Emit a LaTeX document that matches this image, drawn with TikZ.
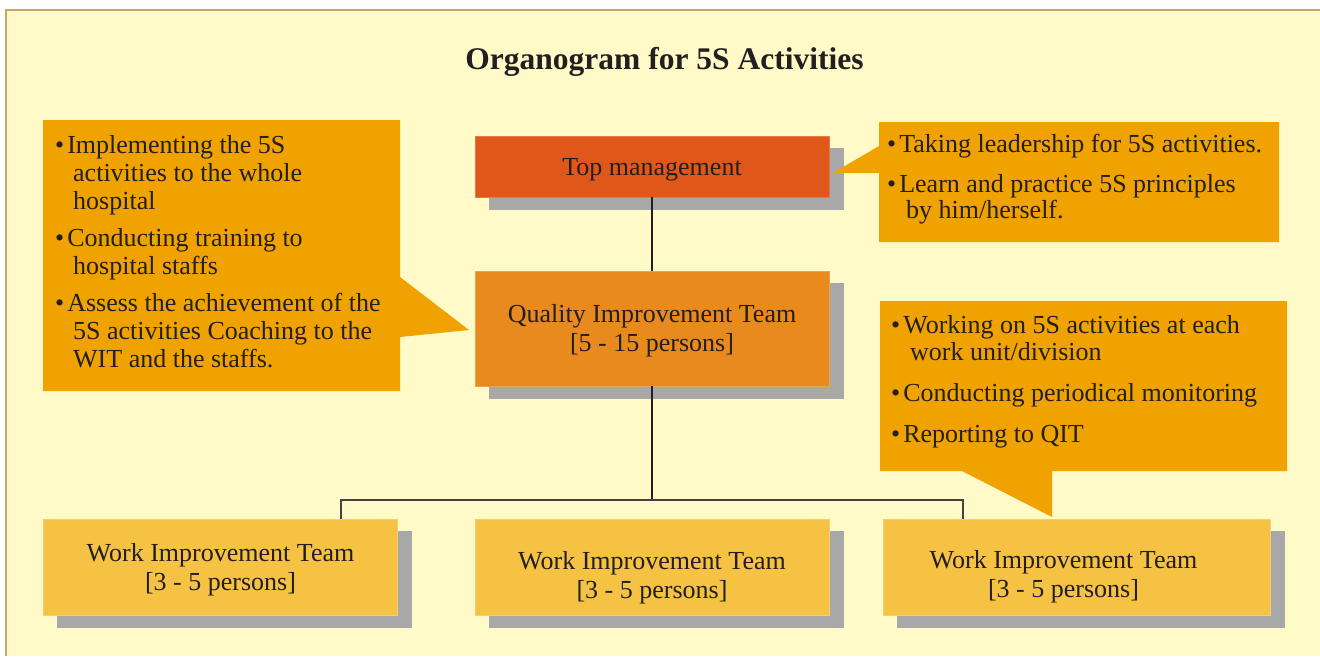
\documentclass[tikz,border=0pt]{standalone}
\usepackage{fontspec}
\setmainfont{Liberation Serif}
\usetikzlibrary{shadows}

\definecolor{paper}{HTML}{FFFAC8}
\definecolor{frame}{HTML}{C8A86A}
\definecolor{topfill}{HTML}{E0571A}
\definecolor{qitfill}{HTML}{E88A1E}
\definecolor{witfill}{HTML}{F5C244}
\definecolor{notefill}{HTML}{F0A200}
\definecolor{shade}{HTML}{A8A8A8}
\definecolor{ink}{HTML}{231F20}

% bullet followed by a small gap
\newcommand{\itembullet}{\textbullet\hspace{3pt}}

\begin{document}
\begin{tikzpicture}[x=1pt,y=-1pt,
  orgbox/.style={rectangle, inner sep=0pt, minimum width=354pt,
    fill=#1, draw=#1!80!white, line width=0.8pt,
    general shadow={fill=shade, draw=shade, shadow xshift=14pt, shadow yshift=-12pt}},
  boxlabel/.style={text=ink, align=center, inner sep=0pt,
    font=\fontsize{26}{29}\selectfont},
  link/.style={draw=ink, line width=2pt},
  bus/.style={draw=ink!85!white, line width=1.5pt},
  note/.style={fill=notefill},
  notetext/.style={anchor=north west, inner sep=0pt, align=left, text=ink}
]
% page, paper and frame
\useasboundingbox (0,0) rectangle (1320,656);
\fill[white] (0,0) rectangle (1320,656);
\fill[paper] (5,10) rectangle (1320,656);
\draw[frame, line width=2.4pt] (6,656) -- (6,9.7) -- (1320,9.7);

% title
\node[text=ink, anchor=base, inner sep=0pt,
      font=\bfseries\fontsize{31.5}{34}\selectfont] (title) at (664.5,69)
  {Organogram for 5S Activities};

% organisation boxes
\node[orgbox=topfill, minimum height=61pt,
      label={[boxlabel, yshift=-3pt]center:Top management}] (top) at (652,166.5) {};
\node[orgbox=qitfill, minimum height=115pt,
      label={[boxlabel, yshift=-2pt]center:Quality Improvement Team\\{}[5 - 15 persons]}] (qit) at (652,328.5) {};
\node[orgbox=witfill, minimum height=96pt,
      label={[boxlabel, yshift=-3pt]center:Work Improvement Team\\{}[3 - 5 persons]}] (wit1) at (220.5,567) {};
\node[orgbox=witfill, minimum height=96pt,
      label={[boxlabel, yshift=-11pt]center:Work Improvement Team\\{}[3 - 5 persons]}] (wit2) at (652,567) {};
\node[orgbox=witfill, minimum height=96pt, minimum width=387pt,
      label={[boxlabel, yshift=-10pt, xshift=-13pt]center:Work Improvement Team\\{}[3 - 5 persons]}] (wit3) at (1076.5,567) {};

% connectors
\coordinate (jn) at (652,500);
\coordinate (jl) at (341,500);
\coordinate (jr) at (963,500);
\draw[link] (top.south) -- (qit.north);
\draw[link] (qit.south) -- (jn);
\draw[bus] (jl |- wit1.north) -- (jl) -- (jr) -- (jr |- wit3.north);

% callouts
\fill[note] (43,120) -- (400,120) -- (400,277) -- (469,330) -- (400,337)
  -- (400,391) -- (43,391) -- cycle;
\fill[note] (879,122) -- (1279,122) -- (1279,242) -- (879,242) -- (879,173)
  -- (833,173) -- (879,146) -- cycle;
\fill[note] (880,301) -- (1287,301) -- (1287,471) -- (1052,471) -- (1052,517)
  -- (962,471) -- (880,471) -- cycle;

\node[notetext, font=\fontsize{26}{28}\selectfont] (noteL) at (55,133.4)
  {\strut\itembullet Implementing the 5S\\
   \hspace*{18pt}activities to the whole\\
   \hspace*{18pt}hospital\\[9pt]
   \itembullet Conducting training to\\
   \hspace*{18pt}hospital staffs\\[9pt]
   \itembullet Assess the achievement of the\\
   \hspace*{18pt}5S activities Coaching to the\\
   \hspace*{18pt}WIT and the staffs.};

\node[notetext, font=\fontsize{26}{26}\selectfont] (noteT) at (887,133.8)
  {\strut\itembullet Taking leadership for 5S activities.\\[14pt]
   \itembullet Learn and practice 5S principles\\
   \hspace*{19pt}by him/herself.};

\node[notetext, font=\fontsize{26}{27}\selectfont] (noteB) at (891,314.1)
  {\strut\itembullet Working on 5S activities at each\\
   \hspace*{19pt}work unit/division\\[14pt]
   \itembullet Conducting periodical monitoring\\[14pt]
   \itembullet Reporting to QIT};
\end{tikzpicture}
\end{document}
